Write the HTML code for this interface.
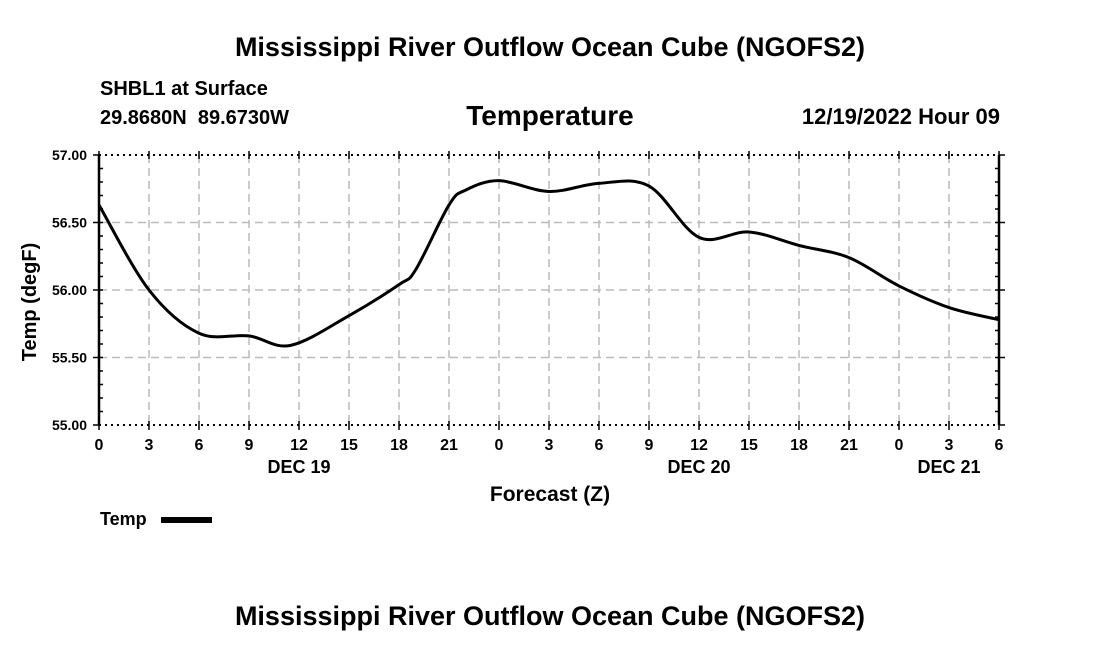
<!DOCTYPE html>
<html><head><meta charset="utf-8"><style>
body{margin:0;background:#fff;width:1100px;height:650px;overflow:hidden}
svg{display:block}
text{font-family:"Liberation Sans",Arial,sans-serif;font-weight:bold;fill:#000}
</style></head><body>
<svg id="chart" width="1100" height="650">
<text x="550" y="56" font-size="27" text-anchor="middle">Mississippi River Outflow Ocean Cube (NGOFS2)</text>
<text x="100" y="95" font-size="20">SHBL1 at Surface</text>
<text x="100" y="124" font-size="20" xml:space="preserve">29.8680N  89.6730W</text>
<text x="550" y="125" font-size="28" text-anchor="middle">Temperature</text>
<text x="1000" y="124" font-size="22" text-anchor="end">12/19/2022 Hour 09</text>
<g id="grid"></g>
<g id="axes"></g>
<path id="line" fill="none" stroke="#000" stroke-width="3"/>
<text x="36" y="302" font-size="20" text-anchor="middle" transform="rotate(-90 36 302)">Temp (degF)</text>
<text x="550" y="501" font-size="21" text-anchor="middle">Forecast (Z)</text>
<text x="100" y="525" font-size="18">Temp</text>
<rect x="161" y="517" width="51" height="6" fill="#000"/>
<text x="550" y="625" font-size="27" text-anchor="middle">Mississippi River Outflow Ocean Cube (NGOFS2)</text>
</svg>
<script>
const hours=[0,3,6,9,11.5,15,18,19,21,22,24,27,30,33,36,39,42,45,48,51,54];
const temps=[56.63,56.0,55.68,55.66,55.59,55.81,56.04,56.15,56.63,56.74,56.81,56.73,56.79,56.77,56.39,56.43,56.33,56.24,56.03,55.87,55.78];
const xTickLabels=["0","3","6","9","12","15","18","21","0","3","6","9","12","15","18","21","0","3","6"];
const yTicks=[55.0,55.5,56.0,56.5,57.0];
const dayLabels=[{h:12,t:"DEC 19"},{h:36,t:"DEC 20"},{h:51,t:"DEC 21"}];
const X0=99,X1=999,Y0=425,Y1=155,HMAX=54,YMIN=55,YMAX=57;
const xs=h=>X0+(X1-X0)*h/HMAX;
const ys=v=>Y0-(Y0-Y1)*(v-YMIN)/(YMAX-YMIN);
const NS="http://www.w3.org/2000/svg";
const grid=document.getElementById('grid'),axes=document.getElementById('axes');
function mk(tag,at,parent){const e=document.createElementNS(NS,tag);for(const k in at)e.setAttribute(k,at[k]);parent.appendChild(e);return e;}
xTickLabels.forEach((lab,i)=>{const x=xs(i*3);
 if(i>0&&i<xTickLabels.length-1){const g=mk('line',{x1:x,x2:x,y1:Y1,y2:Y0,stroke:'#bbb','stroke-width':1.5,'stroke-dasharray':'8,5'},grid);
 
 }
 mk('line',{x1:x,x2:x,y1:Y0-4,y2:Y0+5,stroke:'#000','stroke-width':1.5},axes);
 mk('line',{x1:x,x2:x,y1:Y1-4,y2:Y1+4,stroke:'#000','stroke-width':1.5},axes);
 const t=mk('text',{x:x,y:Y0+25,'font-size':16,'text-anchor':'middle'},axes);t.textContent=lab;
 
 
});
dayLabels.forEach(d=>{const t=mk('text',{x:xs(d.h),y:Y0+48,'font-size':18,'text-anchor':'middle'},axes);t.textContent=d.t;
 
 });
yTicks.forEach(v=>{const y=ys(v);
 if(v>YMIN&&v<YMAX){const g=mk('line',{x1:X0,x2:X1,y1:y,y2:y,stroke:'#bbb','stroke-width':1.5,'stroke-dasharray':'8,5'},grid);
 
 }
 mk('line',{x1:X0-6,x2:X0,y1:y,y2:y,stroke:'#000','stroke-width':1.5},axes);
 mk('line',{x1:X1,x2:X1+6,y1:y,y2:y,stroke:'#000','stroke-width':1.5},axes);
 const t=mk('text',{x:X0-12,y:y+5,'font-size':14,'text-anchor':'end'},axes);t.textContent=v.toFixed(2);
 
 
});
for(let v=YMIN+0.1;v<YMAX-0.05;v+=0.1){const y=ys(v);
 mk('line',{x1:X0,x2:X0+4,y1:y,y2:y,stroke:'#000','stroke-width':1.5},axes);
 mk('line',{x1:X1-4,x2:X1,y1:y,y2:y,stroke:'#000','stroke-width':1.5},axes);}
mk('line',{x1:X0,x2:X1,y1:Y1,y2:Y1,stroke:'#000','stroke-width':2,'stroke-dasharray':'2,4'},axes);
mk('line',{x1:X0,x2:X1,y1:Y0,y2:Y0,stroke:'#000','stroke-width':2,'stroke-dasharray':'2,4'},axes);
mk('line',{x1:X0,x2:X0,y1:Y1,y2:Y0,stroke:'#000','stroke-width':2.5},axes);
mk('line',{x1:X1,x2:X1,y1:Y1,y2:Y0,stroke:'#000','stroke-width':2.5},axes);
const P=hours.map((h,i)=>[xs(h),ys(temps[i])]);
let d='M'+P[0][0]+','+P[0][1];
for(let i=0;i<P.length-1;i++){const p0=P[Math.max(0,i-1)],p1=P[i],p2=P[i+1],p3=P[Math.min(P.length-1,i+2)];
 const c1=[p1[0]+(p2[0]-p0[0])/6,p1[1]+(p2[1]-p0[1])/6],c2=[p2[0]-(p3[0]-p1[0])/6,p2[1]-(p3[1]-p1[1])/6];
 d+=` C${c1[0]},${c1[1]} ${c2[0]},${c2[1]} ${p2[0]},${p2[1]}`;}
document.getElementById('line').setAttribute('d',d);
</script>
</body></html>
